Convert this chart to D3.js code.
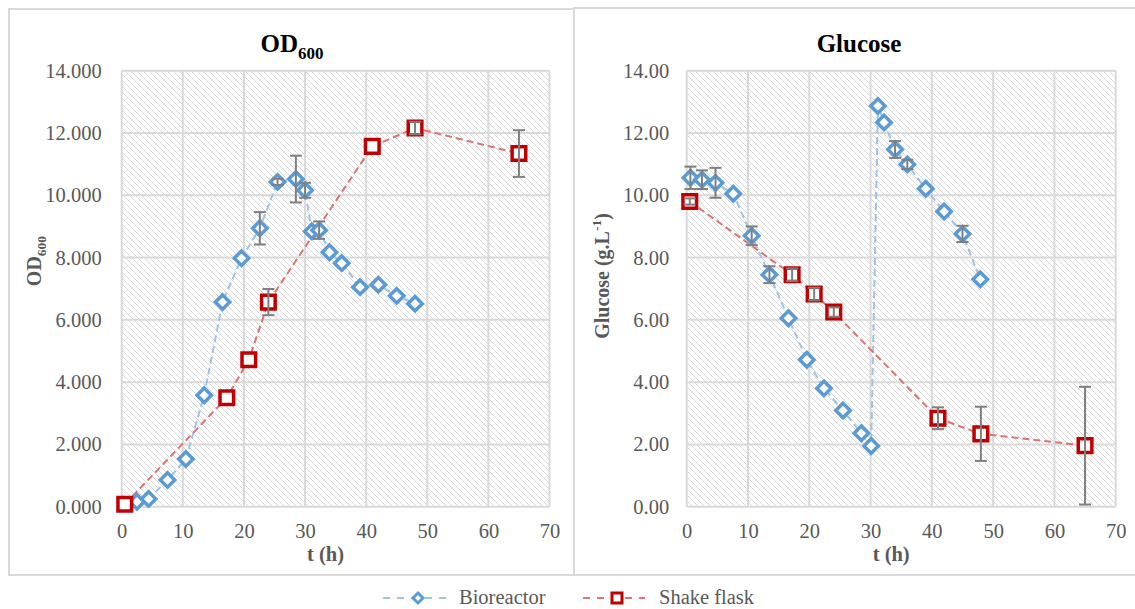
<!DOCTYPE html>
<html>
<head>
<meta charset="utf-8">
<script src="https://cdn.jsdelivr.net/npm/d3@7"></script>
<style>
  body { margin: 0; background: #fff; }
  svg text { font-family: "Liberation Serif", "DejaVu Serif", "Times New Roman", serif !important; }
</style>
</head>
<body>
<svg id="chart" width="1135" height="609"></svg>
<script>
// ticks
const xTicks = [0, 10, 20, 30, 40, 50, 60, 70];
const yTicks = [0, 2, 4, 6, 8, 10, 12, 14];

// OD600 - bioreactor
const odBioT = [2.5, 4.4, 7.5, 10.5, 13.5, 16.5, 19.6, 22.6, 25.5, 28.5, 30.0, 31.1, 32.3, 34.0, 36.0, 39.0, 42.0, 45.0, 48.0];
const odBioV = [0.16, 0.25, 0.86, 1.53, 3.58, 6.57, 7.98, 8.94, 10.43, 10.52, 10.16, 8.84, 8.88, 8.17, 7.82, 7.05, 7.13, 6.77, 6.52];
const odBioE = [0, 0, 0, 0, 0, 0, 0, 0.52, 0.1, 0.75, 0.24, 0, 0.28, 0, 0, 0, 0, 0, 0];

// OD600 - shake flask
const flaskT = [0.5, 17.2, 20.8, 24.0, 41.0, 48.0, 65.0];
const odFlaskV = [0.08, 3.5, 4.72, 6.57, 11.57, 12.16, 11.34];
const odFlaskE = [0, 0, 0, 0.42, 0, 0.2, 0.75];

// Glucose - bioreactor
const glcBioT = [0.6, 2.5, 4.7, 7.6, 10.6, 13.5, 16.6, 19.6, 22.4, 25.5, 28.5, 30.1, 31.2, 32.2, 34.0, 36.0, 39.0, 42.0, 45.0, 47.9];
const glcBioV = [10.56, 10.5, 10.4, 10.05, 8.7, 7.45, 6.05, 4.72, 3.8, 3.09, 2.36, 1.95, 12.87, 12.34, 11.47, 10.99, 10.21, 9.48, 8.76, 7.3];
const glcBioE = [0.36, 0.3, 0.48, 0, 0.3, 0.27, 0, 0, 0, 0, 0, 0, 0, 0, 0.27, 0.15, 0, 0, 0.26, 0];

// Glucose - shake flask
const glcFlaskV = [9.8, 7.45, 6.83, 6.25, 2.84, 2.34, 1.96];
const glcFlaskE = [0.1, 0.2, 0.2, 0.15, 0.35, 0.87, 1.89];

const blue = "#5b9bd5";
const blueLine = "#9dc3e6";
const red = "#c00000";
const redLine = "#e07272";
const gridColor = "#d9d9d9";
const textColor = "#595959";
const serif = '"Liberation Serif", "DejaVu Serif", "Times New Roman", serif';

const svg = d3.select("#chart");

const defs = svg.append("defs");
const pat = defs
  .append("pattern")
  .attr("id", "hatch")
  .attr("patternUnits", "userSpaceOnUse")
  .attr("width", 6)
  .attr("height", 6);
pat.append("rect").attr("width", 6).attr("height", 6).attr("fill", "#fff");
pat
  .append("path")
  .attr("d", "M0,0L6,6M-1,5L1,7M5,-1L7,1")
  .attr("stroke", "#d4d4d4")
  .attr("stroke-width", 0.9);

// chart frames
svg
  .append("rect")
  .attr("x", 9)
  .attr("y", 9)
  .attr("width", 565)
  .attr("height", 566)
  .attr("fill", "none")
  .attr("stroke", gridColor)
  .attr("stroke-width", 2);
svg
  .append("rect")
  .attr("x", 574)
  .attr("y", 8)
  .attr("width", 570)
  .attr("height", 567)
  .attr("fill", "none")
  .attr("stroke", gridColor)
  .attr("stroke-width", 2);

const diamond = (s) => `M0,${-s}L${s},0L0,${s}L${-s},0Z`;
const square = (s) => `M${-s},${-s}H${s}V${s}H${-s}Z`;

function panel(opts) {
  const x = d3.scaleLinear().domain([0, 70]).range([opts.left, opts.right]);
  const y = d3.scaleLinear().domain([0, 14]).range([506.7, 70.7]);
  const g = svg.append("g").attr("font-family", serif);

  g.append("rect")
    .attr("x", x(0))
    .attr("y", y(14))
    .attr("width", x(70) - x(0))
    .attr("height", y(0) - y(14))
    .attr("fill", "url(#hatch)");

  g.append("g")
    .selectAll("line")
    .data(yTicks)
    .join("line")
    .attr("x1", x(0))
    .attr("x2", x(70))
    .attr("y1", (d) => y(d))
    .attr("y2", (d) => y(d))
    .attr("stroke", gridColor)
    .attr("stroke-width", 2);
  g.append("g")
    .selectAll("line")
    .data(xTicks)
    .join("line")
    .attr("x1", (d) => x(d))
    .attr("x2", (d) => x(d))
    .attr("y1", y(0))
    .attr("y2", y(14))
    .attr("stroke", gridColor)
    .attr("stroke-width", 2);

  const yAxis = g
    .append("g")
    .attr("transform", `translate(${x(0)},0)`)
    .call(
      d3.axisLeft(y).tickValues(yTicks).tickFormat(d3.format(opts.fmt)).tickSize(0).tickPadding(opts.ypad),
    );
  const xAxis = g
    .append("g")
    .attr("transform", `translate(0,${y(0)})`)
    .call(d3.axisBottom(x).tickValues(xTicks).tickSize(0).tickPadding(16.5));
  [yAxis, xAxis].forEach((a) => {
    a.attr("font-family", serif).attr("font-size", 20.5);
    a.select(".domain").remove();
    a.selectAll("text").attr("fill", textColor);
  });

  const line = d3
    .line()
    .x((d) => x(d[0]))
    .y((d) => y(d[1]));

  const series = [
    { t: opts.bioT, v: opts.bioV, e: opts.bioE, lc: blueLine, mc: blue, shape: diamond(7.2) },
    { t: flaskT, v: opts.flaskV, e: opts.flaskE, lc: redLine, mc: red, shape: square(6.8) },
  ];

  series.forEach((s) => {
    g.append("path")
      .attr("d", line(d3.zip(s.t, s.v)))
      .attr("fill", "none")
      .attr("stroke", s.lc)
      .attr("stroke-width", 2)
      .attr("stroke-dasharray", "7,4");
  });
  series.forEach((s) => {
    g.append("g")
      .selectAll("path")
      .data(d3.zip(s.t, s.v))
      .join("path")
      .attr("transform", (d) => `translate(${x(d[0])},${y(d[1])})`)
      .attr("d", s.shape)
      .attr("fill", "#fff")
      .attr("stroke", s.mc)
      .attr("stroke-width", 3.5);
  });
  series.forEach((s) => {
    const eb = g
      .append("g")
      .selectAll("g")
      .data(d3.zip(s.t, s.v, s.e).filter((d) => d[2] > 0))
      .join("g")
      .attr("stroke", "#7f7f7f")
      .attr("stroke-width", 2);
    eb.append("line")
      .attr("x1", (d) => x(d[0]))
      .attr("x2", (d) => x(d[0]))
      .attr("y1", (d) => y(d[1] - d[2]))
      .attr("y2", (d) => y(d[1] + d[2]));
    [-1, 1].forEach((k) => {
      eb.append("line")
        .attr("x1", (d) => x(d[0]) - 6)
        .attr("x2", (d) => x(d[0]) + 6)
        .attr("y1", (d) => y(d[1] + k * d[2]))
        .attr("y2", (d) => y(d[1] + k * d[2]));
    });
  });

  // titles
  const title = g
    .append("text")
    .attr("x", opts.titleX)
    .attr("y", 52)
    .attr("text-anchor", "middle")
    .attr("font-weight", "bold")
    .attr("font-size", 25)
    .attr("fill", "#000");
  opts.title(title);

  g.append("text")
    .attr("x", x(35) - 10)
    .attr("y", 561)
    .attr("text-anchor", "middle")
    .attr("font-weight", "bold")
    .attr("font-size", 20.5)
    .attr("fill", textColor)
    .text("t (h)");

  const yl = g
    .append("text")
    .attr("transform", `translate(${opts.ylabX},${opts.ylabY}) rotate(-90)`)
    .attr("text-anchor", "middle")
    .attr("font-weight", "bold")
    .attr("font-size", 20)
    .attr("fill", textColor);
  opts.ylab(yl);
}

panel({
  left: 121.7,
  right: 549.5,
  fmt: ".3f",
  ypad: 20,
  bioT: odBioT,
  bioV: odBioV,
  bioE: odBioE,
  flaskV: odFlaskV,
  flaskE: odFlaskE,
  titleX: 292,
  title: (t) => {
    t.append("tspan").text("OD");
    t.append("tspan").attr("font-size", 17).attr("dy", 7).text("600");
  },
  ylabX: 41,
  ylabY: 261,
  ylab: (t) => {
    t.append("tspan").text("OD");
    t.append("tspan").attr("font-size", 13.5).attr("dy", 5).text("600");
  },
});

panel({
  left: 686.7,
  right: 1115.7,
  fmt: ".2f",
  ypad: 17.5,
  bioT: glcBioT,
  bioV: glcBioV,
  bioE: glcBioE,
  flaskV: glcFlaskV,
  flaskE: glcFlaskE,
  titleX: 859,
  title: (t) => t.text("Glucose"),
  ylabX: 609,
  ylabY: 276,
  ylab: (t) => {
    t.append("tspan").text("Glucose (g.L");
    t.append("tspan").attr("font-size", 13.5).attr("dy", -8).text("-1");
    t.append("tspan").attr("dy", 8).text(")");
  },
});

// legend
const legend = svg.append("g").attr("transform", "translate(0,598)").attr("font-family", serif);
const items = [
  { name: "Bioreactor", x1: 383, x2: 446, mx: 418, lc: blueLine, mc: blue, shape: diamond(5), tx: 459 },
  { name: "Shake flask", x1: 583, x2: 645, mx: 617, lc: redLine, mc: red, shape: square(5), tx: 659 },
];
items.forEach((it) => {
  legend
    .append("line")
    .attr("x1", it.x1)
    .attr("x2", it.x2)
    .attr("stroke", it.lc)
    .attr("stroke-width", 2)
    .attr("stroke-dasharray", "7,7");
  legend
    .append("path")
    .attr("transform", `translate(${it.mx},0)`)
    .attr("d", it.shape)
    .attr("fill", "#fff")
    .attr("stroke", it.mc)
    .attr("stroke-width", 3);
  legend
    .append("text")
    .attr("x", it.tx)
    .attr("y", 6)
    .attr("font-size", 20.5)
    .attr("fill", textColor)
    .text(it.name);
});
</script>
</body>
</html>
